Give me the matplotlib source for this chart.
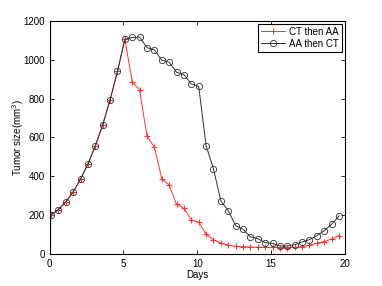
import matplotlib
matplotlib.use("Agg")
import matplotlib.pyplot as plt
import numpy as np

days = [0.1 + 0.5 * k for k in range(40)]
growth = [201, 228, 268, 320, 385, 463, 556, 665, 794, 940, 1106]
ct_then_aa = growth + [887, 845, 606, 550, 388, 355, 255, 235, 176, 163,
                       102, 73, 56, 45, 39, 37, 36, 35, 34, 34,
                       33, 33, 34, 38, 45, 55, 64, 77, 94]
aa_then_ct = growth + [1115, 1117, 1063, 1051, 998, 988, 936, 924, 876, 863,
                       558, 438, 273, 223, 146, 127, 89, 79, 58, 55,
                       41, 41, 48, 62, 74, 94, 120, 153, 196]

xticks = [0, 5, 10, 15, 20]
yticks = [0, 200, 400, 600, 800, 1000, 1200]

plt.rcParams['font.family'] = ['Liberation Sans', 'DejaVu Sans']
fig = plt.figure(figsize=(3.82, 2.86), dpi=100)
ax = fig.add_axes([0.1296, 0.112, 0.7734, 0.8146])

ax.plot(days, ct_then_aa, color='#ff3030', lw=0.7, marker='+', ms=5, mew=0.8,
        label='CT then AA')
ax.plot(days, aa_then_ct, color='#303030', lw=0.7, marker='o', ms=4.5, mew=0.6,
        mfc='none', label='AA then CT')

ax.set_xlim(0, 20)
ax.set_ylim(0, 1200)
ax.set_xticks(xticks)
ax.set_yticks(yticks)
ax.tick_params(direction='in', top=True, right=True, labelsize=7, length=3, width=0.6)
for s in ax.spines.values():
    s.set_linewidth(0.8)
ax.set_xlabel('Days', fontsize=7, labelpad=1)
ax.set_ylabel('Tumor size(mm$^3$)', fontsize=7, labelpad=-2)

leg = ax.legend(loc='upper right', fontsize=7, fancybox=False, framealpha=1,
                edgecolor='black', borderaxespad=0.3, handlelength=2.5,
                borderpad=0.3, labelspacing=0.2, handletextpad=0.4)
leg.get_frame().set_linewidth(0.8)

fig.savefig('out.png', dpi=100)
